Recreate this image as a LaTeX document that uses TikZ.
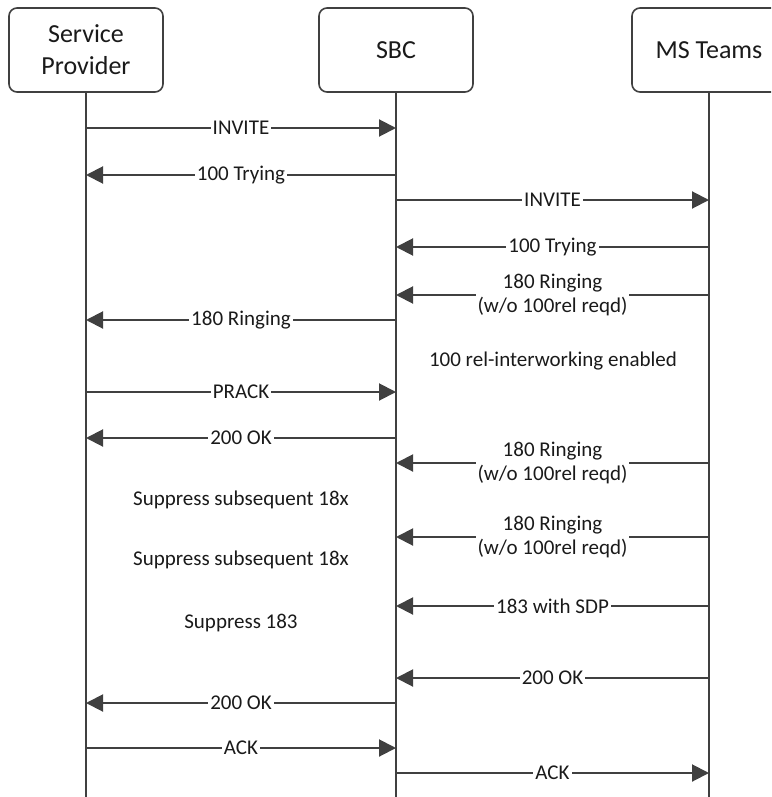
\documentclass[tikz,border=0pt]{standalone}
\usepackage{fontspec}
\setmainfont{Carlito}
\usetikzlibrary{arrows.meta}
\definecolor{wire}{HTML}{404040}
\definecolor{ink}{HTML}{1A1A1A}

\begin{document}
\begin{tikzpicture}[x=0.5pt,y=-0.5pt, every node/.style={font=\fontsize{10.5}{12}\selectfont,text=ink},
    party/.style={draw=wire,fill=white,rounded corners=4pt,line width=0.8pt,minimum width=77pt,minimum height=42pt,align=center,font=\fontsize{13}{16}\selectfont},
    life/.style={wire,line width=1.1pt},
    msg/.style={-{Triangle[length=8.5pt,width=8.5pt]},wire,line width=1pt},
    lbl/.style={fill=white,inner sep=1pt,align=center},
    note/.style={align=center}]
    \clip (0,0) rectangle (771,797);
    \coordinate (bottom) at (0,800);
    % the three parties and their lifelines
    \node[party] (sp) at (86,50) {Service\\Provider};
    \node[party] (sbc) at (396,50) {SBC};
    \node[party] (ms) at (709,50) {MS Teams};
    \draw[life] (sp.south) -- (sp |- bottom);
    \draw[life] (sbc.south) -- (sbc |- bottom);
    \draw[life] (ms.south) -- (ms |- bottom);
    % call setup
    \draw[msg] (sp |- 0,128) -- node[lbl] {INVITE} (sbc |- 0,128);
    \draw[msg] (sbc |- 0,175) -- node[lbl] {100 Trying} (sp |- 0,175);
    \draw[msg] (sbc |- 0,200) -- node[lbl] {INVITE} (ms |- 0,200);
    \draw[msg] (ms |- 0,247) -- node[lbl] {100 Trying} (sbc |- 0,247);
    \draw[msg] (ms |- 0,295) -- node[lbl] {180 Ringing\\(w/o 100rel reqd)} (sbc |- 0,295);
    \draw[msg] (sbc |- 0,320) -- node[lbl] {180 Ringing} (sp |- 0,320);
    \node[note] (interwork) at (553,361) {100 rel-interworking enabled};
    \draw[msg] (sp |- 0,392) -- node[lbl] {PRACK} (sbc |- 0,392);
    \draw[msg] (sbc |- 0,438) -- node[lbl] {200 OK} (sp |- 0,438);
    % further provisional responses
    \draw[msg] (ms |- 0,463) -- node[lbl] {180 Ringing\\(w/o 100rel reqd)} (sbc |- 0,463);
    \node[note] (supp1) at (241,500) {Suppress subsequent 18x};
    \draw[msg] (ms |- 0,537) -- node[lbl] {180 Ringing\\(w/o 100rel reqd)} (sbc |- 0,537);
    \node[note] (supp2) at (241,560) {Suppress subsequent 18x};
    \draw[msg] (ms |- 0,606) -- node[lbl] {183 with SDP} (sbc |- 0,606);
    \node[note] (supp3) at (241,623) {Suppress 183};
    % answer
    \draw[msg] (ms |- 0,678) -- node[lbl] {200 OK} (sbc |- 0,678);
    \draw[msg] (sbc |- 0,703) -- node[lbl] {200 OK} (sp |- 0,703);
    \draw[msg] (sp |- 0,748) -- node[lbl] {ACK} (sbc |- 0,748);
    \draw[msg] (sbc |- 0,773) -- node[lbl] {ACK} (ms |- 0,773);
\end{tikzpicture}
\end{document}
